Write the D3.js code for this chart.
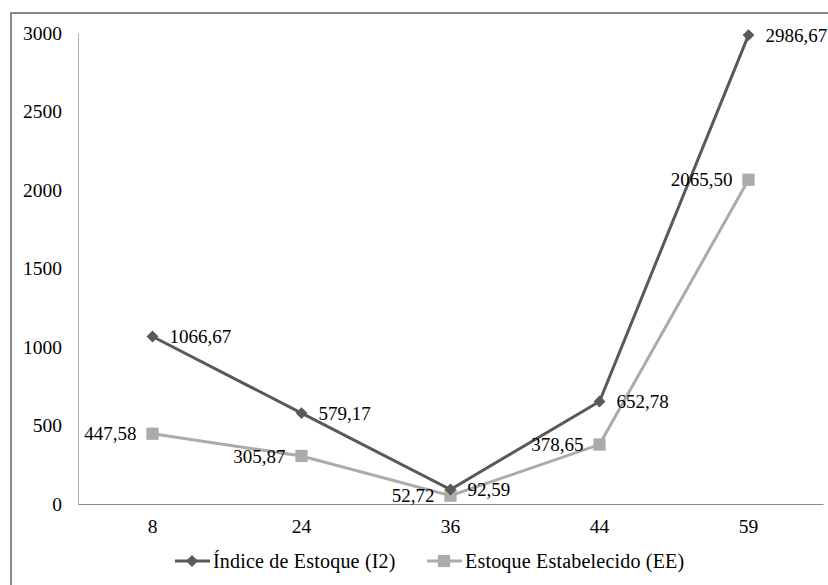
<!DOCTYPE html>
<html>
<head>
<meta charset="utf-8">
<script src="https://cdn.jsdelivr.net/npm/d3@7/dist/d3.min.js"></script>
<style>
  html, body { margin: 0; padding: 0; background: #fff; }
  svg { display: block; }
</style>
</head>
<body>
<script>
// Categories (months) and the two series
const categories = ["8", "24", "36", "44", "59"];
const indiceEstoque = [1066.67, 579.17, 92.59, 652.78, 2986.67];
const estoqueEstabelecido = [447.58, 305.87, 52.72, 378.65, 2065.50];
const yTicks = [0, 500, 1000, 1500, 2000, 2500, 3000];
const seriesNames = ["Índice de Estoque (I2)", "Estoque Estabelecido (EE)"];

const W = 828, H = 585;
const margin = { left: 78, top: 33, right: 5, bottom: 81 };
const FONT = '"Liberation Serif"';
const FS = "19.5px";

const svg = d3.select("body").append("svg").attr("width", W).attr("height", H);

// outer frame
svg.append("rect")
  .attr("x", 11).attr("y", 13).attr("width", W + 10).attr("height", H + 10)
  .attr("fill", "none").attr("stroke", "#8a8a8a").attr("stroke-width", 2);

const x = d3.scaleBand().domain(categories).range([margin.left, W - margin.right]);
const y = d3.scaleLinear().domain([0, 3000]).range([H - margin.bottom, margin.top]);
const fmt = v => v.toFixed(2).replace(".", ",");
const cx = c => x(c) + x.bandwidth() / 2;

// y axis
const yAxis = svg.append("g").attr("transform", `translate(${margin.left},0)`)
  .call(d3.axisLeft(y).tickValues(yTicks).tickSize(0).tickPadding(16).tickFormat(d => d));
yAxis.select(".domain").attr("stroke", "#b0b0b0").attr("stroke-width", 1);

// x axis
const xAxis = svg.append("g").attr("transform", `translate(0,${y(0)})`)
  .call(d3.axisBottom(x).tickSize(0).tickPadding(15));
xAxis.select(".domain").attr("stroke", "#8a8a8a").attr("stroke-width", 1.2);

// axis groups carry a font attribute of their own; clear it
svg.selectAll("g").attr("font-family", null).attr("font-size", null);

const darkC = "#595959", lightC = "#ababab";
const line = d3.line().x((d, i) => cx(categories[i])).y(d => y(d));

// Estoque Estabelecido (EE)
svg.append("path").datum(estoqueEstabelecido).attr("d", line)
  .attr("fill", "none").attr("stroke", lightC).attr("stroke-width", 3);
// Índice de Estoque (I2)
svg.append("path").datum(indiceEstoque).attr("d", line)
  .attr("fill", "none").attr("stroke", darkC).attr("stroke-width", 3);

const diamond = d3.symbol().type(d3.symbolDiamond2).size(90);
const square = d3.symbol().type(d3.symbolSquare).size(150);

svg.selectAll(".m-ee").data(estoqueEstabelecido).enter().append("path")
  .attr("d", square).attr("fill", lightC)
  .attr("transform", (d, i) => `translate(${cx(categories[i])},${y(d)})`);
svg.selectAll(".m-i2").data(indiceEstoque).enter().append("path")
  .attr("d", diamond).attr("fill", darkC)
  .attr("transform", (d, i) => `translate(${cx(categories[i])},${y(d)})`);

// one serif face for the axis texts
svg.selectAll("text")
  .style("font-family", FONT).style("font-size", FS).style("fill", "#000");

// labels: I2 to the right, EE to the left
svg.selectAll(".l-i2").data(indiceEstoque).enter().append("text")
  .attr("x", (d, i) => cx(categories[i]) + 17).attr("y", d => y(d))
  .attr("dy", "0.35em").text(fmt);
svg.selectAll(".l-ee").data(estoqueEstabelecido).enter().append("text")
  .attr("x", (d, i) => cx(categories[i]) - 16).attr("y", d => y(d))
  .attr("dy", "0.35em").attr("text-anchor", "end").text(fmt);
svg.selectAll(".l-i2, .l-ee").data([]);
svg.selectAll("text:not(.tick text)")
  .style("font-family", FONT).style("font-size", "19px").style("fill", "#000");

// legend
const legend = svg.append("g").attr("transform", `translate(0,${H - 24})`);
const items = [
  { x: 175, color: darkC, sym: diamond, name: seriesNames[0] },
  { x: 427, color: lightC, sym: square, name: seriesNames[1] }
];
items.forEach(it => {
  legend.append("line").attr("x1", it.x).attr("x2", it.x + 35).attr("y1", 0).attr("y2", 0)
    .attr("stroke", it.color).attr("stroke-width", 3);
  legend.append("path").attr("d", it.sym).attr("fill", it.color)
    .attr("transform", `translate(${it.x + 17},0)`);
  legend.append("text").attr("x", it.x + 38).attr("y", 0).attr("dy", "0.35em")
    .style("font-family", FONT).style("font-size", "20px").style("letter-spacing", "0.2px")
    .style("fill", "#000").text(it.name);
});
</script>
</body>
</html>
